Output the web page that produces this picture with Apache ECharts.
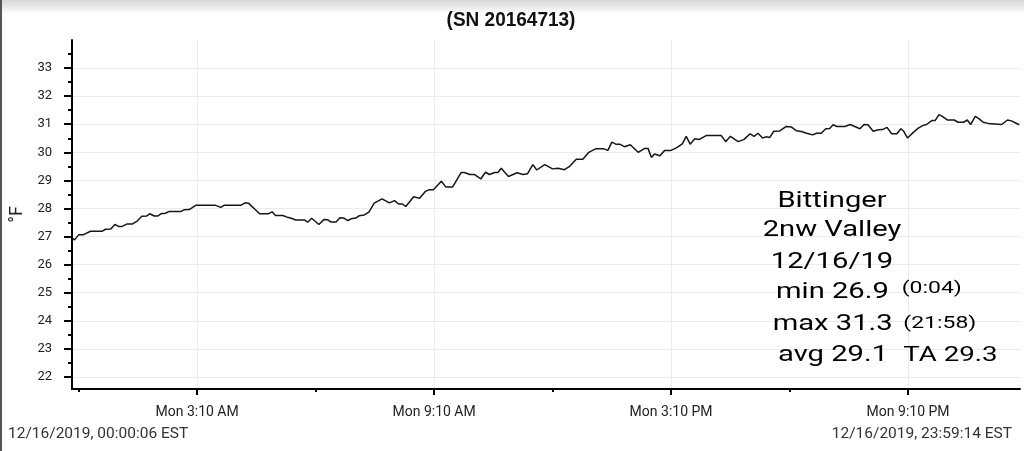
<!DOCTYPE html>
<html><head><meta charset="utf-8">
<script src="https://cdn.jsdelivr.net/npm/echarts@6/dist/echarts.min.js"></script>
<style>html,body{margin:0;padding:0;background:#fff;overflow:hidden}#c{width:1024px;height:451px}</style>
</head><body><div id="c"></div>
<script>
const titleText = '(SN 20164713)';
const yName = '°F';
const minutes = [0,4,10,17,28,46,51,59,65,71,76,84,92,99,106,113,118,125,130,135,142,147,165,170,178,188,218,226,231,256,263,268,277,285,298,304,309,320,327,332,340,353,358,364,
375,383,388,393,401,407,413,419,424,431,436,444,451,459,471,482,490,496,502,507,519,528,537,543,549,561,568,578,591,596,604,611,621,628,634,642,647,652,663,676,685,692,700,706,718,723,
730,738,748,756,766,776,785,796,807,814,820,826,832,839,848,860,870,875,880,885,893,900,909,918,927,933,939,946,953,964,986,993,1000,1012,1021,1030,1036,1042,1049,1054,1060,1066,1075,1085,1093,
1100,1108,1116,1125,1131,1138,1145,1151,1156,1162,1174,1182,1189,1197,1203,1209,1217,1225,1231,1238,1245,1253,1259,1263,1269,1278,1285,1292,1298,1306,1311,1317,1322,1330,1340,1346,1354,1360,1365,1372,1378,1384,1392,1412,1421,1427,1438,1439];
const tempF = [26.95,26.88,27.06,27.06,27.19,27.19,27.26,27.27,27.43,27.36,27.36,27.45,27.45,27.55,27.72,27.73,27.81,27.73,27.73,27.81,27.83,27.89,27.89,27.95,27.96,28.11,28.11,28.04,28.11,28.11,28.20,28.19,27.99,27.81,27.81,27.88,27.75,27.75,27.69,27.66,27.59,27.59,27.51,27.65,
27.43,27.61,27.60,27.52,27.52,27.67,27.66,27.57,27.63,27.66,27.74,27.77,27.87,28.19,28.34,28.20,28.28,28.16,28.16,28.07,28.42,28.36,28.61,28.67,28.67,28.97,28.76,28.76,29.28,29.28,29.21,29.21,29.05,29.29,29.21,29.28,29.28,29.43,29.14,29.27,29.21,29.24,29.56,29.37,29.56,29.50,
29.41,29.43,29.38,29.50,29.75,29.75,30.00,30.13,30.13,30.07,30.36,30.29,30.29,30.20,30.27,30.00,30.14,30.14,29.82,29.94,29.88,30.06,30.06,30.16,30.30,30.57,30.29,30.48,30.46,30.60,30.60,30.38,30.57,30.38,30.46,30.66,30.57,30.68,30.51,30.55,30.53,30.75,30.76,30.92,30.90,
30.77,30.74,30.68,30.62,30.68,30.68,30.84,30.85,30.98,30.92,30.92,30.99,30.92,30.84,30.99,30.98,30.75,30.80,30.81,30.89,30.66,30.66,30.84,30.76,30.51,30.71,30.85,30.95,30.99,31.13,31.13,31.34,31.28,31.15,31.15,31.07,31.07,31.15,30.99,31.28,31.19,31.07,31.03,30.99,31.15,31.12,30.99,31.00];
const yTicks = [22,23,24,25,26,27,28,29,30,31,32,33];
const yMinorTicks = [22.5,23.5,24.5,25.5,26.5,27.5,28.5,29.5,30.5,31.5,32.5,33.5];
const xMajorMinutes = [190,550,910,1270];
const xMinorMinutes = [10,370,730,1090];
const xMajorLabels = ['Mon 3:10 AM','Mon 9:10 AM','Mon 3:10 PM','Mon 9:10 PM'];
const startStamp = '12/16/2019, 00:00:06 EST';
const endStamp = '12/16/2019, 23:59:14 EST';
const noteLines = ['Bittinger','2nw Valley','12/16/19'];
const statLines = ['min 26.9','max 31.3','avg 29.1'];
const statNotes = ['(0:04)','(21:58)','TA 29.3'];

const chart = echarts.init(document.getElementById('c'), null, {renderer:'canvas'});
const F = 'Roboto, sans-serif';
const SX = 1.35;
const graphics = [
  {type:'rect', shape:{x:0,y:0,width:1024,height:14}, style:{fill:new echarts.graphic.LinearGradient(0,0,0,1,[{offset:0,color:'#d6d6d6'},{offset:1,color:'#ffffff'}])}, z:-1},
  {type:'rect', shape:{x:0,y:0,width:2,height:451}, style:{fill:'#555'}, z:100},
  {type:'text', x:511, y:20, scaleX:0.95, z:100, style:{text:titleText, font:'bold 20px "Liberation Sans", Arial, sans-serif', fill:'#111', textAlign:'center', textVerticalAlign:'middle'}}
];
const noteY = [202, 231, 262.5];
noteLines.forEach((t,i)=>graphics.push({type:'text', x:832, y:noteY[i], scaleX:SX, z:100, style:{text:t, font:'21.6px '+F, fill:'#000', textAlign:'center', textVerticalAlign:'middle'}}));
const statX = [776, 772.7, 778];
const statY = [293, 325, 356];
const noteX = [901.7, 903.3, 903.3];
const noteYs = [289, 324, 356];
const noteFont = ['17px ','17px ','20.5px '];
statLines.forEach((t,i)=>{
  graphics.push({type:'text', x:statX[i], y:statY[i], scaleX:SX, z:100, style:{text:t, font:'21.6px '+F, fill:'#000', textAlign:'left', textVerticalAlign:'middle'}});
  graphics.push({type:'text', x:noteX[i], y:noteYs[i], scaleX:SX, z:100, style:{text:statNotes[i], font:noteFont[i]+F, fill:'#000', textAlign:'left', textVerticalAlign:'middle'}});
});
graphics.push({type:'text', x:8, y:434, z:100, style:{text:startStamp, font:'15.5px '+F, fill:'#333', textAlign:'left', textVerticalAlign:'middle'}});
graphics.push({type:'text', x:1012, y:434, z:100, style:{text:endStamp, font:'15.5px '+F, fill:'#333', textAlign:'right', textVerticalAlign:'middle'}});

const option = {
  animation:false,
  backgroundColor:'#fff',
  grid:{left:72, right:4, top:40, bottom:62, containLabel:false},
  xAxis:[
    {type:'value', min:0, max:1440, position:'bottom',
      axisLine:{show:true, onZero:false, lineStyle:{color:'#000', width:2}},
      axisTick:{show:true, customValues:xMajorMinutes, length:6, lineStyle:{color:'#000', width:2}},
      axisLabel:{customValues:xMajorMinutes, formatter:v=>xMajorLabels[xMajorMinutes.indexOf(v)] || '', fontSize:14, fontFamily:F, color:'#222', margin:16},
      splitLine:{show:true, lineStyle:{color:'#ebebeb', width:1}}},
    {type:'value', min:0, max:1440, position:'bottom',
      axisLine:{show:false, onZero:false},
      axisTick:{show:true, customValues:xMinorMinutes, length:3, lineStyle:{color:'#000', width:2}},
      axisLabel:{show:false}, splitLine:{show:false}}
  ],
  yAxis:[
    {type:'value', min:21.57, max:34, position:'left',
      name:yName, nameLocation:'middle', nameGap:46, nameRotate:90, nameTextStyle:{fontSize:18, fontFamily:F, color:'#222'},
      axisLine:{show:true, onZero:false, lineStyle:{color:'#000', width:2}},
      axisTick:{show:true, customValues:yTicks, length:8, lineStyle:{color:'#000', width:2}},
      axisLabel:{customValues:yTicks, fontSize:13, fontFamily:F, color:'#222', margin:20},
      splitLine:{show:true, lineStyle:{color:'#ebebeb', width:1}}},
    {type:'value', min:21.57, max:34, position:'left',
      axisLine:{show:false, onZero:false},
      axisTick:{show:true, customValues:yMinorTicks, length:4, lineStyle:{color:'#000', width:2}},
      axisLabel:{show:false}, splitLine:{show:false}}
  ],
  series:[{type:'line', xAxisIndex:0, yAxisIndex:0, data:minutes.map((m,i)=>[m,tempF[i]]), showSymbol:false, symbol:'none',
    lineStyle:{color:'#161616', width:1.5}, silent:true}],
  graphic:graphics
};
chart.setOption(option);
</script></body></html>
